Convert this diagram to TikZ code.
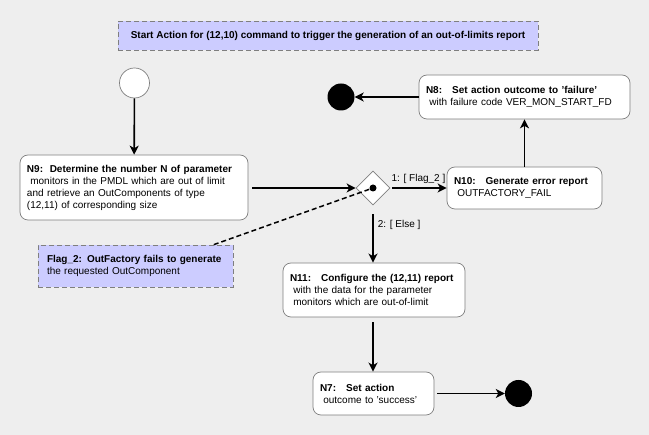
\documentclass[tikz,border=0pt]{standalone}
\usepackage{fontspec}
\setmainfont{Liberation Sans}
\usetikzlibrary{arrows.meta,shapes.geometric,calc}

\definecolor{bggray}{HTML}{EEEEEE}
\definecolor{notefill}{HTML}{CCCCFF}
\definecolor{boxline}{HTML}{7F7F7F}

\tikzset{
  action/.style={draw=boxline,fill=white,line width=0.7pt,rounded corners=8pt,
    align=left,inner xsep=7pt,inner ysep=0pt},
  note/.style={draw=boxline,fill=notefill,line width=0.7pt,dash pattern=on 5pt off 3pt,
    inner xsep=9pt,inner ysep=0pt},
  flow/.style={-{Stealth[length=9pt,width=9pt,inset=2.5pt]},line width=1.6pt},
  guard/.style={font=\fontsize{10pt}{12pt}\selectfont,inner sep=1pt},
}

\begin{document}
\begin{tikzpicture}[x=1pt,y=-1pt,font=\fontsize{10pt}{12pt}\selectfont]
  \useasboundingbox[fill=bggray] (0,0) rectangle (649,435);

  \node[note,minimum width=420pt,minimum height=29pt,font=\bfseries\fontsize{10pt}{12pt}\selectfont]
    (title) at (328,35.5) {Start Action for (12,10) command to trigger the generation of an out-of-limits report};

  \node[circle,draw=boxline,fill=white,line width=0.7pt,minimum size=30pt,inner sep=0pt] (start) at (134.5,83) {};

  \node[action,minimum width=228pt,minimum height=65pt,text width=214pt] (n9) at (134,187.5)
    {\textbf{N9:\ \ Determine the number N of parameter}\\
     \ monitors in the PMDL which are out of limit\\
     and retrieve an OutComponents of type\\
     (12,11) of corresponding size};

  \node[note,minimum width=195pt,minimum height=42pt,text width=177pt,align=left] (flag) at (135.5,266)
    {\textbf{Flag\_2: OutFactory fails to generate}\\
     the requested OutComponent};

  \node[diamond,draw=boxline,fill=white,line width=0.7pt,minimum width=34pt,minimum height=34pt,inner sep=0pt]
    (dec) at (373,188) {};
  \node[circle,fill=black,minimum size=7pt,inner sep=0pt] (decdot) at (dec.center) {};

  \node[action,minimum width=155pt,minimum height=42pt,text width=141pt] (n10) at (524.5,188)
    {\textbf{N10:\ \ \ Generate error report}\\
     \ OUTFACTORY\_FAIL};

  \node[action,minimum width=211pt,minimum height=44pt,text width=197pt] (n8) at (524.5,97)
    {\textbf{N8:\ \ \ Set action outcome to 'failure'}\\
     \ with failure code VER\_MON\_START\_FD};

  \node[circle,fill=black,minimum size=27pt,inner sep=0pt] (endfail) at (341,97) {};

  \node[action,minimum width=182pt,minimum height=54pt,text width=168pt] (n11) at (374,290)
    {\textbf{N11:\ \ \ Configure the (12,11) report}\\
     \ with the data for the parameter\\
     \ monitors which are out-of-limit};

  \node[action,minimum width=121pt,minimum height=43pt,text width=107pt] (n7) at (373.5,393.5)
    {\textbf{N7:\ \ \ Set action}\\
     \ outcome to 'success'};

  \node[circle,fill=black,minimum size=27pt,inner sep=0pt] (endok) at (518.5,393.5) {};

  \draw[flow] (start) -- (n9);
  \draw[flow,shorten <=4pt] (n9.east |- dec) -- (dec.west);
  \draw[flow,shorten <=2pt] (dec.east) -- node[guard,above=3pt] {1: [ Flag\_2 ]} (n10.west);
  \draw[flow] (n10.north) -- (n8.south);
  \draw[flow] (n8.west) -- (endfail);
  \draw[flow,shorten <=9pt] (dec.south) -- node[guard,pos=0.35,right=3pt] {2: [ Else ]} (n11.north -| dec);
  \draw[flow,shorten <=5pt] (n11.south -| dec) -- (n7.north -| dec);
  \draw[flow,shorten <=3pt] (n7.east) -- (endok);

  % note link
  \draw[line width=1.5pt,dash pattern=on 5pt off 3pt] ($(flag.north)!0.8!(flag.north east)$) -- (dec.center);
\end{tikzpicture}
\end{document}
